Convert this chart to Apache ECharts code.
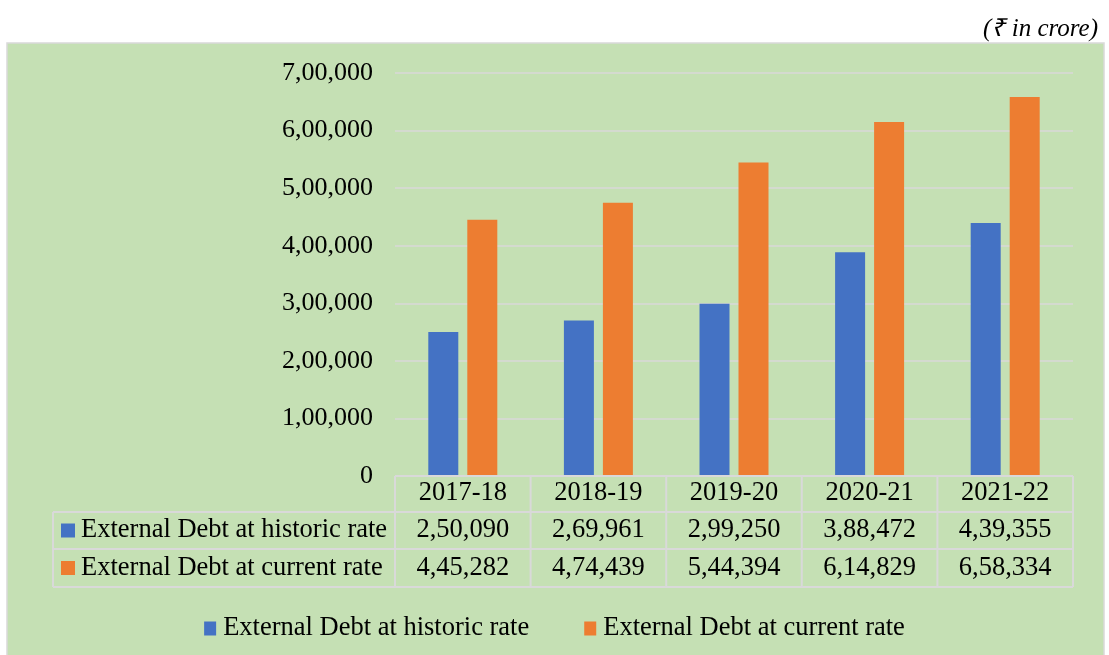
<!DOCTYPE html>
<html><head><meta charset="utf-8">
<script src="https://cdn.jsdelivr.net/npm/echarts@6/dist/echarts.min.js"></script>
<style>html,body{margin:0;padding:0;background:#fff}#c{width:1109px;height:655px}</style>
</head><body><div id="c"></div>
<script>
var categories = ['2017-18','2018-19','2019-20','2020-21','2021-22'];
var seriesNames = ['External Debt at historic rate','External Debt at current rate'];
var historic = [250090, 269961, 299250, 388472, 439355];
var current = [445282, 474439, 544394, 614829, 658334];
var colors = ['#4472C4','#ED7D31'];
var FONT = '"Liberation Serif", "Times New Roman", serif';
var FS = 26.5;

function indian(n){
  var s = String(Math.round(n));
  if (s.length <= 3) return s;
  var last3 = s.slice(-3), rest = s.slice(0,-3);
  rest = rest.replace(/\B(?=(\d{2})+(?!\d))/g, ',');
  return rest + ',' + last3;
}

var chart = echarts.init(document.getElementById('c'));
var option = {
  backgroundColor: '#ffffff',
  animation: false,
  textStyle: {fontFamily: FONT},
  title: {
    text: '(₹ in crore)', right: 6, top: 12,
    textStyle: {fontFamily: FONT, fontStyle: 'italic', fontWeight: 'normal', fontSize: 25, color: '#000'}
  },
  grid: {left: 395, right: 36, top: 73, bottom: 179, containLabel: false},
  legend: {
    bottom: 8, left: 'center', itemWidth: 12, itemHeight: 14, itemGap: 55,
    icon: 'rect',
    textStyle: {fontFamily: FONT, fontSize: FS, color: '#000', padding: [0,0,0,2]},
    data: seriesNames
  },
  xAxis: {
    type: 'category', data: categories,
    axisLine: {show: false}, axisTick: {show: false},
    axisLabel: {show: true, margin: 4, fontFamily: FONT, fontSize: FS, color: '#000'}
  },
  yAxis: {
    type: 'value', min: 0, max: 700000, interval: 100000,
    axisLine: {show: false}, axisTick: {show: false},
    axisLabel: {margin: 22, fontFamily: FONT, fontSize: 26, color: '#000', formatter: function(v){return indian(v);}},
    splitLine: {lineStyle: {color: '#D9D9D9', width: 1.5}}
  },
  series: [
    {name: seriesNames[0], type: 'bar', data: historic, barWidth: 30, barGap: '30%', itemStyle: {color: colors[0]}},
    {name: seriesNames[1], type: 'bar', data: current, barWidth: 30, barGap: '30%', itemStyle: {color: colors[1]}}
  ]
};
chart.setOption(option);

// Build the data table from the axis scale
var lineColor = '#D9D9D9';
var x0 = chart.convertToPixel({xAxisIndex: 0}, 0);
var x1 = chart.convertToPixel({xAxisIndex: 0}, 1);
var band = x1 - x0;
var tableLeft = x0 - band / 2;
var tableRight = tableLeft + band * categories.length;
var yTop = chart.convertToPixel({yAxisIndex: 0}, 0);
var rowH = [36, 37, 38];
var yR1 = yTop + rowH[0], yR2 = yR1 + rowH[1], yR3 = yR2 + rowH[2];
var labelLeft = 53;

var g = [];
g.push({type: 'rect', z: -10, shape: {x: 7, y: 43, width: 1097, height: 620},
  style: {fill: '#C5E0B4', stroke: '#D9D9D9', lineWidth: 1.5}, silent: true});
function hline(xa, xb, y){ g.push({type: 'line', z: 5, shape: {x1: xa, y1: y, x2: xb, y2: y}, style: {stroke: lineColor, lineWidth: 2}}); }
function vline(x, ya, yb){ g.push({type: 'line', z: 5, shape: {x1: x, y1: ya, x2: x, y2: yb}, style: {stroke: lineColor, lineWidth: 2}}); }
hline(tableLeft, tableRight, yTop);
hline(labelLeft, tableRight, yR1);
hline(labelLeft, tableRight, yR2);
hline(labelLeft, tableRight, yR3);
vline(labelLeft, yR1, yR3);
for (var i = 0; i <= categories.length; i++) vline(tableLeft + band * i, yTop, yR3);

var rows = [historic, current];
for (var r = 0; r < 2; r++) {
  var ya = r === 0 ? yR1 : yR2, yb = r === 0 ? yR2 : yR3;
  var cy = (ya + yb) / 2;
  g.push({type: 'rect', z: 6, shape: {x: 61, y: cy - 7, width: 14, height: 14}, style: {fill: colors[r]}});
  g.push({type: 'text', z: 6, x: 81, y: cy, style: {text: seriesNames[r], fontFamily: FONT, fontSize: FS, fill: '#000', textVerticalAlign: 'middle', verticalAlign: 'middle'}});
  for (var c = 0; c < categories.length; c++) {
    g.push({type: 'text', z: 6, x: tableLeft + band * (c + 0.5), y: cy,
      style: {text: indian(rows[r][c]), fontFamily: FONT, fontSize: FS, fill: '#000', align: 'center', textAlign: 'center', verticalAlign: 'middle', textVerticalAlign: 'middle'}});
  }
}
chart.setOption({graphic: {elements: g}});
</script>
</body></html>
